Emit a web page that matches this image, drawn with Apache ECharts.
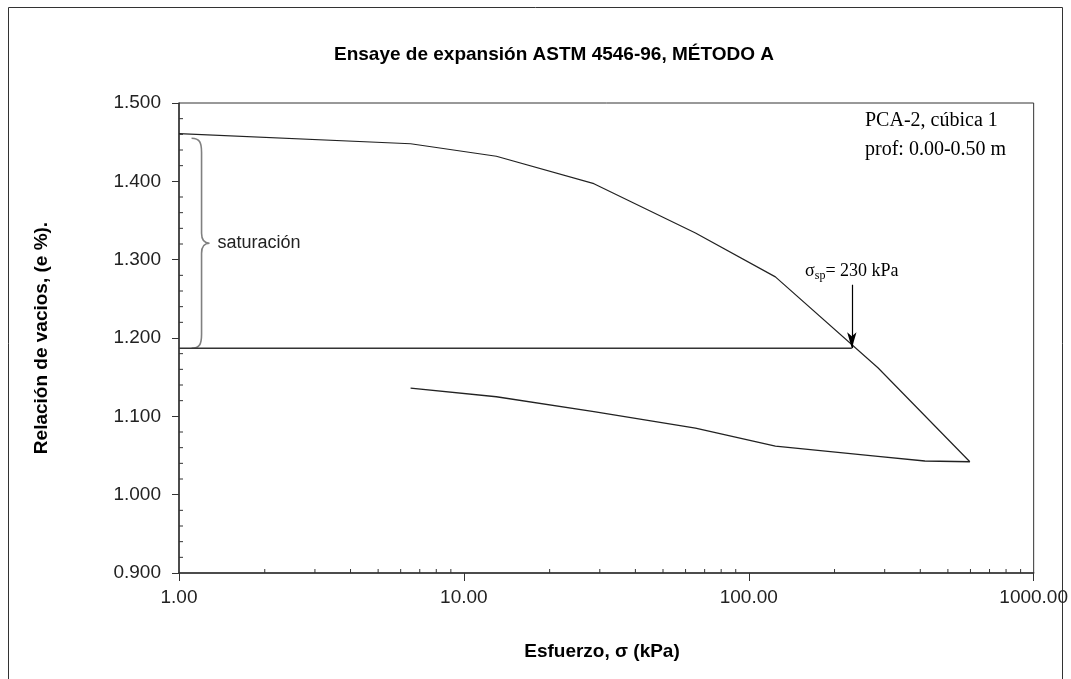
<!DOCTYPE html>
<html><head><meta charset="utf-8">
<script src="https://cdn.jsdelivr.net/npm/echarts/dist/echarts.min.js"></script>
<style>html,body{margin:0;padding:0;background:#fff}#c{width:1071px;height:679px}</style>
</head><body><div id="c"></div>
<script>
// ---- data ----
const loadSigma = [1, 6.5, 13, 28.6, 65, 124, 284, 597];
const loadE     = [1.461, 1.448, 1.432, 1.397, 1.334, 1.278, 1.162, 1.042];
const unloadSigma = [597, 415, 284, 124, 65, 28.6, 13, 6.5];
const unloadE     = [1.042, 1.043, 1.049, 1.062, 1.085, 1.106, 1.125, 1.136];
const satSigma = [1, 230];
const satE = [1.187, 1.187];
const sigmaSp = 230;
const arrowTopE = 1.268;
const braceSigma = 1.2;
const braceRange = [1.455, 1.187];
const xMinorTicks = [2,3,4,5,6,7,8,9,20,30,40,50,60,70,80,90,200,300,400,500,600,700,800,900];
const yMinorTicks = [0.92,0.94,0.96,0.98,1.02,1.04,1.06,1.08,1.12,1.14,1.16,1.18,1.22,1.24,1.26,1.28,1.32,1.34,1.36,1.38,1.42,1.44,1.46,1.48];
const titleText = 'Ensaye de expansión ASTM 4546-96, MÉTODO A';
const xName = 'Esfuerzo, σ (kPa)';
const yName = 'Relación de vacios, (e %).';
const sampleLines = ['PCA-2, cúbica 1', 'prof: 0.00-0.50 m'];
const satLabel = 'saturación';

const zip = (a, b) => a.map((v, i) => [v, b[i]]);
const SANS = 'Liberation Sans';
const SERIF = 'Liberation Serif';
const INK = '#222';

const chart = echarts.init(document.getElementById('c'), null, {renderer: 'canvas'});
chart.setOption({
  animation: false,
  backgroundColor: '#fff',
  grid: {left: 179, right: 35, top: 103, bottom: 106, show: true, borderColor: '#333', borderWidth: 1, backgroundColor: 'transparent'},
  xAxis: {
    type: 'log', logBase: 10, min: 1, max: 1000,
    axisLine: {show: true, lineStyle: {color: '#333', width: 1.5}},
    axisTick: {show: true, inside: false, length: 8, lineStyle: {color: '#333', width: 1}},
    axisLabel: {formatter: v => Number(v).toFixed(2), fontFamily: SANS, fontSize: 19, color: INK, margin: 15},
    splitLine: {show: false}, minorTick: {show: false}
  },
  yAxis: {
    type: 'value', min: 0.9, max: 1.5, interval: 0.1,
    axisLine: {show: true, lineStyle: {color: '#333', width: 1.5}},
    axisTick: {show: true, inside: false, length: 7, lineStyle: {color: '#333', width: 1}},
    axisLabel: {formatter: v => Number(v).toFixed(3), fontFamily: SANS, fontSize: 19, color: INK, margin: 18},
    splitLine: {show: false}
  },
  series: [
    {type: 'line', data: zip(loadSigma, loadE), showSymbol: false, symbol: 'none', lineStyle: {color: '#222', width: 1.2}, silent: true},
    {type: 'line', data: zip(unloadSigma, unloadE), showSymbol: false, symbol: 'none', lineStyle: {color: '#222', width: 1.3}, silent: true},
    {type: 'line', data: zip(satSigma, satE), showSymbol: false, symbol: 'none', lineStyle: {color: '#333', width: 1.5}, silent: true,
      markLine: {
        silent: true, symbol: ['none', 'arrow'], symbolSize: [7, 16],
        lineStyle: {color: '#000', width: 1.2, type: 'solid'},
        label: {show: true, position: 'start', distance: 3,
          formatter: '{a|σ}{b|sp}{a|= 230 kPa}',
          rich: {a: {fontFamily: SERIF, fontSize: 18, color: '#000'},
                 b: {fontFamily: SERIF, fontSize: 12, color: '#000', padding: [9, 0, 0, 0]}}},
        data: [[{coord: [sigmaSp, arrowTopE]}, {coord: [sigmaSp, satE[1]]}]]
      }
    },
    {type: 'custom', silent: true, clip: false,
      data: [[braceSigma, braceRange[0], braceRange[1]]],
      renderItem: (params, api) => {
        const pT = api.coord([api.value(0), api.value(1)]);
        const pB = api.coord([api.value(0), api.value(2)]);
        const x0 = pT[0], yT = pT[1], yB = pB[1], m = (yT + yB) / 2;
        const d = `M${x0-10} ${yT} C${x0-2} ${yT} ${x0} ${yT+4} ${x0} ${yT+14} L${x0} ${m-10} C${x0} ${m-3} ${x0+3} ${m} ${x0+8} ${m} C${x0+3} ${m} ${x0} ${m+3} ${x0} ${m+10} L${x0} ${yB-14} C${x0} ${yB-4} ${x0-2} ${yB} ${x0-10} ${yB}`;
        return {type: 'group', children: [
          {type: 'path', shape: {pathData: d}, style: {stroke: '#808080', lineWidth: 1.6, fill: null}},
          {type: 'text', style: {text: satLabel, x: x0 + 16, y: m, verticalAlign: 'middle', align: 'left', font: '18px "Liberation Sans"', fill: INK}}
        ]};
      }
    },
    {type: 'custom', silent: true, clip: false,
      data: xMinorTicks.map(v => [v, 0.9]),
      renderItem: (params, api) => {
        const p = api.coord([api.value(0), api.value(1)]);
        return {type: 'line', shape: {x1: p[0], y1: p[1], x2: p[0], y2: p[1] - 4}, style: {stroke: '#333', lineWidth: 1}};
      }
    },
    {type: 'custom', silent: true, clip: false,
      data: yMinorTicks.map(v => [1, v]),
      renderItem: (params, api) => {
        const p = api.coord([api.value(0), api.value(1)]);
        return {type: 'line', shape: {x1: p[0], y1: p[1], x2: p[0] + 4, y2: p[1]}, style: {stroke: '#333', lineWidth: 1}};
      }
    }
  ],
  graphic: [
    {type: 'rect', shape: {x: 8.5, y: 7.5, width: 1054, height: 720}, style: {fill: null, stroke: '#333', lineWidth: 1}, silent: true, z: -1},
    {type: 'text', x: 554, y: 55, style: {text: titleText, font: 'bold 19px "Liberation Sans"', fill: '#000', align: 'center', verticalAlign: 'middle'}},
    {type: 'text', x: 602, y: 652, style: {text: xName, font: 'bold 19px "Liberation Sans"', fill: '#000', align: 'center', verticalAlign: 'middle'}},
    {type: 'text', x: 42, y: 338, rotation: Math.PI / 2, style: {text: yName, font: 'bold 19px "Liberation Sans"', fill: '#000', align: 'center', verticalAlign: 'middle'}},
    {type: 'text', x: 865, y: 121, style: {text: sampleLines[0], font: '20px "Liberation Serif"', fill: '#000', align: 'left', verticalAlign: 'middle'}},
    {type: 'text', x: 865, y: 150, style: {text: sampleLines[1], font: '20px "Liberation Serif"', fill: '#000', align: 'left', verticalAlign: 'middle'}}
  ]
});
</script></body></html>
